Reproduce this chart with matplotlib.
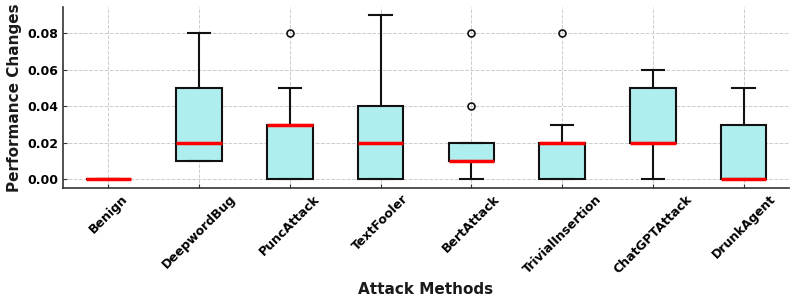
import matplotlib
matplotlib.use("Agg")
import matplotlib.pyplot as plt

methods = ["Benign", "DeepwordBug", "PuncAttack", "TextFooler", "BertAttack",
           "TrivialInsertion", "ChatGPTAttack", "DrunkAgent"]

benign = [0.00, 0.00, 0.00, 0.00, 0.00]
deepwordbug = [0.01, 0.01, 0.02, 0.05, 0.08]
puncattack = [0.00, 0.00, 0.00, 0.03, 0.03, 0.03, 0.03, 0.05, 0.08]
textfooler = [0.00, 0.00, 0.02, 0.04, 0.09]
bertattack = [0.00, 0.01, 0.01, 0.01, 0.01, 0.02, 0.02, 0.04, 0.08]
trivialinsertion = [0.00, 0.00, 0.00, 0.02, 0.02, 0.02, 0.02, 0.03, 0.08]
chatgptattack = [0.00, 0.02, 0.02, 0.05, 0.06]
drunkagent = [0.00, 0.00, 0.00, 0.03, 0.05]

data = [benign, deepwordbug, puncattack, textfooler, bertattack,
        trivialinsertion, chatgptattack, drunkagent]

fig = plt.figure(figsize=(7.97, 3.06), dpi=100)
ax = fig.add_axes([0.079, 0.387, 0.911, 0.590])

ax.boxplot(
    data,
    patch_artist=True,
    boxprops=dict(facecolor="#AFEEEE", edgecolor="#111111", linewidth=1.5),
    medianprops=dict(color="red", linewidth=2.5),
    whiskerprops=dict(color="#111111", linewidth=1.5),
    capprops=dict(color="#111111", linewidth=1.5),
    flierprops=dict(marker="o", markerfacecolor="none", markeredgecolor="#111111",
                    markersize=5, markeredgewidth=1.2),
    zorder=3,
)

ax.set_xticks(range(1, len(methods) + 1))
ax.set_xticklabels(methods, rotation=45, ha="center", fontsize=9, fontweight="bold")
ax.set_yticks([0.0, 0.02, 0.04, 0.06, 0.08])
ax.set_yticklabels(["0.00", "0.02", "0.04", "0.06", "0.08"], fontsize=9, fontweight="bold")
ax.tick_params(direction="in", length=3, color="#333333")

ax.grid(True, linestyle="--", color="#cccccc", linewidth=0.7, zorder=0)
ax.set_axisbelow(True)
for s in ["top", "right"]:
    ax.spines[s].set_visible(False)
for s in ["left", "bottom"]:
    ax.spines[s].set_color("#333333")
    ax.spines[s].set_linewidth(1.2)

ax.set_xlabel("Attack Methods", fontsize=11, fontweight="bold", color="#1a1a1a")
ax.set_ylabel("Performance Changes", fontsize=11, fontweight="bold", color="#1a1a1a")

fig.savefig("out.png", dpi=100)
